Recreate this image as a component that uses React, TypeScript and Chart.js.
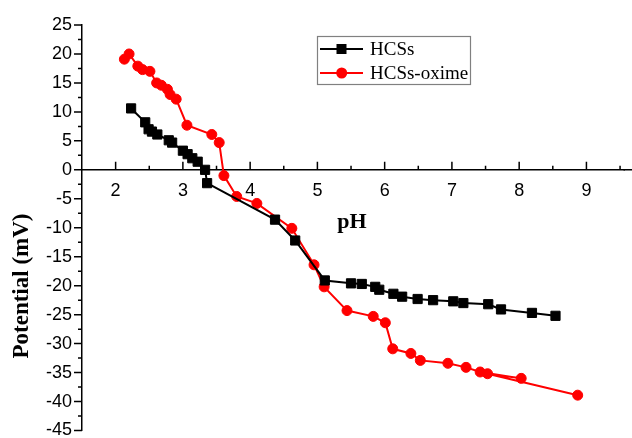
import React, { useEffect, useRef } from "react";
import { Chart, registerables } from "chart.js";

Chart.register(...registerables);

// HCSs series
const hcssPH = [2.23, 2.44, 2.49, 2.54, 2.62, 2.79, 2.84, 3.0, 3.07, 3.14, 3.22, 3.33, 3.36, 4.37, 4.67, 5.11, 5.5, 5.66, 5.86, 5.92, 6.13, 6.26, 6.49, 6.72, 7.02, 7.17, 7.54, 7.73, 8.19, 8.54];
const hcssMV = [10.6, 8.2, 7.0, 6.6, 6.1, 5.1, 4.7, 3.3, 2.7, 2.0, 1.4, 0.0, -2.3, -8.6, -12.2, -19.1, -19.6, -19.7, -20.2, -20.7, -21.4, -21.9, -22.3, -22.5, -22.7, -23.0, -23.2, -24.1, -24.7, -25.2];

// HCSs-oxime series
const oximePH = [2.13, 2.2, 2.33, 2.4, 2.51, 2.61, 2.68, 2.77, 2.81, 2.9, 3.06, 3.43, 3.54, 3.61, 3.8, 4.1, 4.62, 4.95, 5.1, 5.44, 5.83, 6.01, 6.12, 6.39, 6.53, 6.94, 7.21, 7.42, 8.03, 7.53, 8.87];
const oximeMV = [19.1, 20.0, 17.9, 17.3, 17.0, 15.0, 14.6, 13.9, 13.0, 12.2, 7.7, 6.1, 4.7, -1.0, -4.6, -5.8, -10.1, -16.4, -20.2, -24.3, -25.3, -26.4, -30.9, -31.7, -32.9, -33.4, -34.1, -34.9, -36.0, -35.2, -38.9];

const seriesNames = ["HCSs", "HCSs-oxime"];
const xTickValues = [2, 3, 4, 5, 6, 7, 8, 9];
const xMin = 1.5;
const xMax = 9.566;
const yMin = -45;
const yMax = 25;
const yStep = 5;
const xTitle = "pH";
const yTitle = "Potential (mV)";

export default function App() {
  const ref = useRef<HTMLCanvasElement | null>(null);

  useEffect(() => {
    const canvas = ref.current;
    if (!canvas) return;

    const decor = {
      id: "decor",
      afterDraw(chart: any) {
        const { ctx, scales, chartArea } = chart;
        const xs = scales.x;
        const ys = scales.y;
        const left = chartArea.left;
        const y0 = ys.getPixelForValue(0);
        ctx.save();
        ctx.strokeStyle = "#000";
        ctx.lineWidth = 1.5;
        ctx.beginPath();
        // extend x axis line to the canvas edge
        ctx.moveTo(chartArea.right - 1, y0);
        ctx.lineTo(chart.width, y0);
        for (let v = yMin; v <= yMax + 1e-9; v += yStep / 2) {
          const py = ys.getPixelForValue(v);
          const major = Math.abs(Math.round(v / yStep) * yStep - v) < 1e-9;
          const len = major ? 8 : 4;
          ctx.moveTo(left - len, py);
          ctx.lineTo(left, py);
        }
        for (let v = 2; v <= 9.5 + 1e-9; v += 0.5) {
          const px = xs.getPixelForValue(v);
          const major = Math.abs(Math.round(v) - v) < 1e-9;
          const len = major ? 8 : 4;
          ctx.moveTo(px, y0);
          ctx.lineTo(px, y0 - len);
        }
        ctx.stroke();

        // axis titles
        ctx.fillStyle = "#000";
        ctx.font = "bold 22px 'Liberation Serif', 'Times New Roman', serif";
        ctx.textAlign = "center";
        ctx.textBaseline = "middle";
        ctx.fillText(xTitle, 352, 222);
        ctx.save();
        ctx.translate(22, 286);
        ctx.rotate(-Math.PI / 2);
        ctx.font = "bold 23px 'Liberation Serif', 'Times New Roman', serif";
        ctx.fillText(yTitle, 0, 0);
        ctx.restore();

        // legend
        const bx = 317.5, by = 36.5, bw = 153, bh = 48;
        ctx.strokeStyle = "#808080";
        ctx.lineWidth = 1.2;
        ctx.strokeRect(bx, by, bw, bh);
        const rows = [49, 73];
        chart.data.datasets.forEach((ds: any, i: number) => {
          const ry = rows[i];
          ctx.strokeStyle = ds.borderColor;
          ctx.lineWidth = 2;
          ctx.beginPath();
          ctx.moveTo(320, ry);
          ctx.lineTo(363, ry);
          ctx.stroke();
          ctx.fillStyle = ds.pointBackgroundColor;
          if (ds.pointStyle === "rect") {
            ctx.fillRect(336.5, ry - 5, 10, 10);
          } else {
            ctx.beginPath();
            ctx.arc(341.7, ry, 5.5, 0, Math.PI * 2);
            ctx.fill();
          }
          ctx.fillStyle = "#000";
          ctx.font = "19px 'Liberation Serif', 'Times New Roman', serif";
          ctx.textAlign = "left";
          ctx.textBaseline = "middle";
          ctx.fillText(ds.label, 370, ry + 1);
        });
        ctx.restore();
      },
    };

    const chart = new Chart(canvas, {
      type: "scatter",
      data: {
        datasets: [
          {
            label: seriesNames[0],
            data: hcssPH.map((x, i) => ({ x, y: hcssMV[i] })),
            showLine: true,
            borderColor: "#000000",
            backgroundColor: "#000000",
            pointBackgroundColor: "#000000",
            pointBorderColor: "#000000",
            borderWidth: 2,
            pointStyle: "rect",
            pointRadius: 6.5,
            pointBorderWidth: 1,
          },
          {
            label: seriesNames[1],
            data: oximePH.map((x, i) => ({ x, y: oximeMV[i] })),
            showLine: true,
            borderColor: "#ff0000",
            backgroundColor: "#ff0000",
            pointBackgroundColor: "#ff0000",
            pointBorderColor: "#ff0000",
            borderWidth: 2,
            pointStyle: "circle",
            pointRadius: 5,
            pointBorderWidth: 1,
          },
        ],
      },
      options: {
        responsive: false,
        animation: false,
        layout: { padding: { left: 0, top: 25, right: 0, bottom: 6 } },
        plugins: {
          legend: { display: false },
          tooltip: { enabled: false },
        },
        scales: {
          x: {
            type: "linear",
            min: xMin,
            max: xMax,
            position: { y: 0 } as any,
            afterBuildTicks: (s: any) => {
              s.ticks = xTickValues.map((v) => ({ value: v }));
            },
            afterFit: (s: any) => {
              s.paddingLeft = 0;
              s.paddingRight = 0;
            },
            ticks: {
              color: "#000",
              font: { family: "'Liberation Sans', Arial, sans-serif", size: 18 },
              padding: 10,
              autoSkip: false,
              maxRotation: 0,
              callback: (v: any) => String(v),
            },
            grid: { display: false, drawTicks: false },
            border: { display: true, color: "#000", width: 1.5 },
          },
          y: {
            type: "linear",
            min: yMin,
            max: yMax,
            position: "left",
            afterFit: (s: any) => {
              s.width = 82;
              s.paddingTop = 0;
              s.paddingBottom = 0;
            },
            ticks: {
              stepSize: yStep,
              color: "#000",
              font: { family: "'Liberation Sans', Arial, sans-serif", size: 18 },
              padding: 10,
            },
            grid: { display: false, drawTicks: false },
            border: { display: true, color: "#000", width: 1.5 },
          },
        },
      },
      plugins: [decor],
    });

    return () => chart.destroy();
  }, []);

  return (
    <div style={{ position: "absolute", left: 0, top: 0, width: 632, height: 438, overflow: "hidden", background: "#fff" }}>
      <canvas ref={ref} width={632} height={438} style={{ display: "block" }} />
    </div>
  );
}
